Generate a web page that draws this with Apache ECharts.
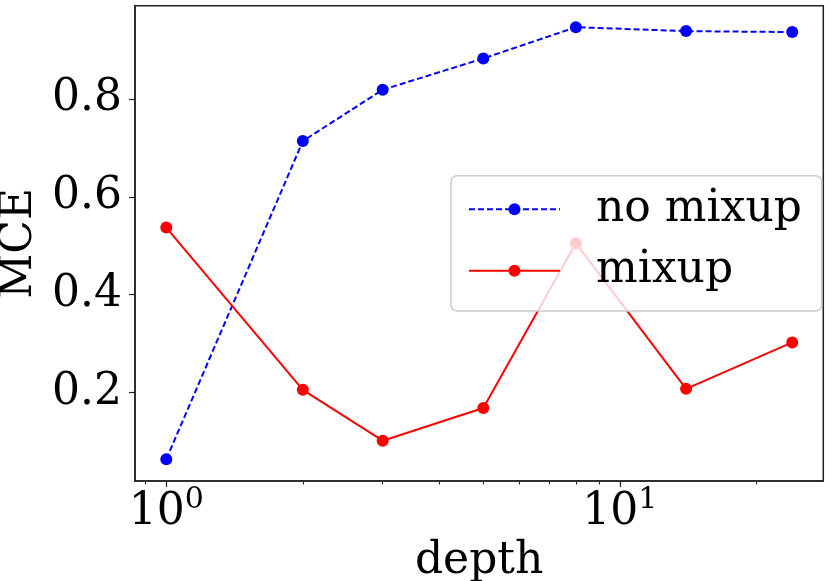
<!DOCTYPE html>
<html>
<head>
<meta charset="utf-8">
<script src="https://cdn.jsdelivr.net/npm/echarts@6/dist/echarts.min.js"></script>
<style>
html,body{margin:0;padding:0;background:#fff;}
#chart{width:830px;height:581px;}
</style>
</head>
<body>
<div id="chart"></div>
<script>
// ---- data ----
const depth = [1, 2, 3, 5, 8, 14, 24];
const noMixup = [0.063, 0.714, 0.819, 0.883, 0.947, 0.939, 0.937];
const mixup = [0.537, 0.205, 0.101, 0.168, 0.505, 0.207, 0.302];
const seriesNames = ['no mixup', 'mixup'];
const xMajorTicks = [1, 10];
const xMinorTicks = [0.9, 2, 3, 4, 5, 6, 7, 8, 9, 20];
const yTicks = [0.2, 0.4, 0.6, 0.8];
const xTitle = 'depth';
const yTitle = 'MCE';

const FONT = 'DejaVu Serif';
const FS = 44;
const AX = '#222222';

const chart = echarts.init(document.getElementById('chart'), null, {renderer: 'canvas'});

const xRange = {min: 0.853, max: 28.1};
const yRange = {min: 0.0185, max: 0.991};

const option = {
  animation: false,
  backgroundColor: '#ffffff',
  grid: {
    left: 135, right: 6.7, top: 5.7, bottom: 100,
    show: true, borderColor: AX, borderWidth: 1.5, backgroundColor: 'transparent',
    containLabel: false,
    outerBoundsMode: 'none'
  },
  legend: {
    data: seriesNames,
    orient: 'vertical',
    left: 451, top: 175.7,
    padding: [11.6, 19.7, 18.3, 17],
    itemWidth: 91, itemHeight: 15,
    itemGap: 17.4,
    backgroundColor: 'rgba(255,255,255,0.8)',
    borderColor: '#cccccc', borderWidth: 1.5, borderRadius: 6,
    textStyle: {fontFamily: FONT, fontSize: FS, color: '#000', lineHeight: 44, padding: [0, 0, 0, 31]},
    selectedMode: false
  },
  xAxis: [
    {
      type: 'log', logBase: 10,
      min: xRange.min, max: xRange.max,
      name: xTitle, nameLocation: 'middle', nameGap: 52,
      nameTextStyle: {fontFamily: FONT, fontSize: FS, color: '#000'},
      axisLine: {show: true, onZero: false, lineStyle: {color: AX, width: 1.5}},
      axisTick: {show: true, length: 6, customValues: xMajorTicks, lineStyle: {color: AX, width: 1.2}},
      axisLabel: {
        show: true, margin: 4, customValues: xMajorTicks,
        formatter: function (v) { return '{b|10}{s|' + Math.round(Math.log10(v)) + '}'; },
        rich: {
          b: {fontFamily: FONT, fontSize: FS, color: '#000', verticalAlign: 'bottom', lineHeight: 50},
          s: {fontFamily: FONT, fontSize: 30, color: '#000', verticalAlign: 'top', lineHeight: 50}
        }
      },
      splitLine: {show: false},
      minorTick: {show: false}
    },
    {
      type: 'log', logBase: 10,
      min: xRange.min, max: xRange.max,
      gridIndex: 0, position: 'bottom',
      axisLine: {show: false},
      axisTick: {show: true, length: 3.5, customValues: xMinorTicks, lineStyle: {color: AX, width: 1}},
      axisLabel: {show: false},
      splitLine: {show: false}
    }
  ],
  yAxis: {
    type: 'value',
    min: yRange.min, max: yRange.max,
    name: yTitle, nameLocation: 'middle', nameRotate: 90, nameGap: 92,
    nameTextStyle: {fontFamily: FONT, fontSize: FS, color: '#000'},
    axisLine: {show: true, onZero: false, lineStyle: {color: AX, width: 1.5}},
    axisTick: {show: true, length: 6, customValues: yTicks, lineStyle: {color: AX, width: 1.2}},
    axisLabel: {
      show: true, margin: 13, customValues: yTicks,
      fontFamily: FONT, fontSize: FS, color: '#000',
      formatter: function (v) { return Number(v).toFixed(1); }
    },
    splitLine: {show: false}
  },
  series: [
    {
      name: seriesNames[0], type: 'line', xAxisIndex: 0,
      data: depth.map((d, i) => [d, noMixup[i]]),
      symbol: 'circle', symbolSize: 12,
      itemStyle: {color: '#0000ff'},
      lineStyle: {color: '#0000ff', width: 2, type: [6, 3]},
      emphasis: {disabled: true}
    },
    {
      name: seriesNames[1], type: 'line', xAxisIndex: 0,
      data: depth.map((d, i) => [d, mixup[i]]),
      symbol: 'circle', symbolSize: 12,
      itemStyle: {color: '#ff0000'},
      lineStyle: {color: '#ff0000', width: 2, type: 'solid'},
      emphasis: {disabled: true}
    }
  ]
};
chart.setOption(option);
</script>
</body>
</html>
